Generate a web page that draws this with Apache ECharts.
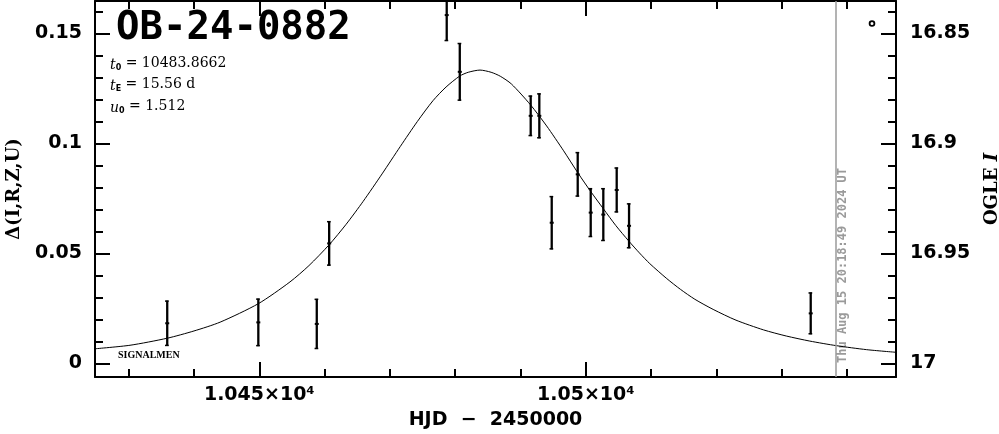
<!DOCTYPE html>
<html><head><meta charset="utf-8">
<script src="https://cdn.jsdelivr.net/npm/echarts@6/dist/echarts.min.js"></script>
<style>html,body{margin:0;padding:0;background:#fff}#c{width:999px;height:434px}</style>
</head><body><div id="c"></div>
<script>
// ---- data ----
const obsDays  = [10435.9, 10449.85, 10458.8, 10460.7, 10478.7, 10480.7, 10491.56, 10492.88, 10494.78, 10498.76, 10500.75, 10502.68, 10504.73, 10506.62, 10534.44];
const obsDelta = [0.0182, 0.0186, 0.0179, 0.0545, 0.1583, 0.1325, 0.1125, 0.1125, 0.0639, 0.0859, 0.0685, 0.0676, 0.0788, 0.0625, 0.0227];
const obsErr   = [0.0103, 0.0108, 0.0114, 0.0101, 0.0118, 0.0131, 0.0092, 0.0102, 0.0121, 0.0101, 0.0111, 0.0120, 0.0102, 0.0102, 0.0095];

const modelDays  = [10424.84, 10430.2, 10435.9, 10440.0, 10444.0, 10449.85, 10454.7, 10457.6, 10460.7, 10463.3, 10465.9, 10468.8, 10471.6, 10474.2, 10476.6, 10478.6, 10480.7, 10482.0, 10483.8, 10485.5, 10486.9, 10488.6, 10491.5, 10494.0, 10496.6, 10498.8, 10500.7, 10502.7, 10504.6, 10506.6, 10508.2, 10509.8, 10512.4, 10514.5, 10516.7, 10519.5, 10523.0, 10527.2, 10530.7, 10534.3, 10538.4, 10543.0, 10547.5];
const modelDelta = [0.0066, 0.0082, 0.0114, 0.0147, 0.0187, 0.0271, 0.0370, 0.0444, 0.0539, 0.0632, 0.0736, 0.0861, 0.0986, 0.1099, 0.1194, 0.1256, 0.1306, 0.1323, 0.1333, 0.1323, 0.1305, 0.1270, 0.1176, 0.1079, 0.0966, 0.0865, 0.0783, 0.0702, 0.0626, 0.0555, 0.0502, 0.0453, 0.0385, 0.0336, 0.0291, 0.0245, 0.0196, 0.0152, 0.0124, 0.0101, 0.0080, 0.0062, 0.0050];

const xMajorTicks = [10450, 10500];
const xMinorTicks = [10430, 10440, 10460, 10470, 10480, 10490, 10510, 10520, 10530, 10540];
const deltaMajorTicks = [0, 0.05, 0.1, 0.15];
const deltaMinorTicks = [0.01, 0.02, 0.03, 0.04, 0.06, 0.07, 0.08, 0.09, 0.11, 0.12, 0.13, 0.14, 0.16];
const magMajorTicks = [16.85, 16.9, 16.95, 17];
const magMinorTicks = [16.84, 16.86, 16.87, 16.88, 16.89, 16.91, 16.92, 16.93, 16.94, 16.96, 16.97, 16.98, 16.99];

const dateLineDay = 10538.35;
const dateText = 'Thu Aug 15 20:18:49 2024 UT';
const titleText = 'OB-24-0882';
const paramT0 = '10483.8662';
const paramTE = '15.56 d';
const paramU0 = '1.512';

const X_MIN = 10424.84, X_MAX = 10547.5;
const D_MIN = -0.00623, D_MAX = 0.1647;
const M_MIN = 17 - D_MAX, M_MAX = 17 - D_MIN;

const chart = echarts.init(document.getElementById('c'), null, {renderer: 'canvas'});
const black = '#000';
const tickFont = {fontFamily: 'DejaVu Sans', fontWeight: 'bold', fontSize: 19, color: black};

function xAxisDef(pos, ticks, len, showLine, showLabel) {
  return {
    type: 'value', position: pos, min: X_MIN, max: X_MAX, scale: true,
    axisLine: {show: showLine, onZero: false, lineStyle: {color: black, width: 2}},
    axisTick: {show: true, inside: true, length: len, customValues: ticks, lineStyle: {color: black, width: 2}},
    axisLabel: showLabel ? Object.assign({show: true, margin: 9, customValues: ticks,
      formatter: v => (v / 1e4).toString() + '×10⁴'}, tickFont) : {show: false},
    splitLine: {show: false}
  };
}
function yAxisDef(pos, min, max, inverse, ticks, len, showLine, showLabel, margin) {
  return {
    type: 'value', position: pos, min: min, max: max, inverse: inverse, scale: true,
    axisLine: {show: showLine, onZero: false, lineStyle: {color: black, width: 2}},
    axisTick: {show: true, inside: true, length: len, customValues: ticks, lineStyle: {color: black, width: 2}},
    axisLabel: showLabel ? Object.assign({show: true, margin: margin, customValues: ticks,
      formatter: v => String(v)}, tickFont) : {show: false},
    splitLine: {show: false}
  };
}

const xAxes = [
  xAxisDef('bottom', xMajorTicks, 15, true, true),
  xAxisDef('bottom', xMinorTicks, 8, false, false),
  xAxisDef('top', xMajorTicks, 15, true, false),
  xAxisDef('top', xMinorTicks, 8, false, false)
];
xAxes[0].name = 'HJD  −  2450000';
xAxes[0].nameLocation = 'middle';
xAxes[0].nameGap = 34;
xAxes[0].nameTextStyle = {fontFamily: 'DejaVu Sans', fontWeight: 'bold', fontSize: 19, color: black};

const yAxes = [
  yAxisDef('left', D_MIN, D_MAX, false, deltaMajorTicks, 15, true, true, 13),
  yAxisDef('left', D_MIN, D_MAX, false, deltaMinorTicks, 8, false, false, 0),
  yAxisDef('right', M_MIN, M_MAX, true, magMajorTicks, 15, true, true, 14),
  yAxisDef('right', M_MIN, M_MAX, true, magMinorTicks, 8, false, false, 0)
];
yAxes[0].name = 'Δ(I,R,Z,U)';
yAxes[0].nameLocation = 'middle';
yAxes[0].nameRotate = 90;
yAxes[0].nameGap = 72;
yAxes[0].nameTextStyle = {fontFamily: 'DejaVu Serif', fontWeight: 'bold', fontSize: 18, color: black};
yAxes[2].name = 'OGLE {i|I}';
yAxes[2].nameLocation = 'middle';
yAxes[2].nameRotate = 90;
yAxes[2].nameGap = 87;
yAxes[2].nameTextStyle = {fontFamily: 'DejaVu Serif', fontWeight: 'bold', fontSize: 18, color: black,
  rich: {i: {fontFamily: 'DejaVu Serif', fontWeight: 'bold', fontStyle: 'italic', fontSize: 18, color: black}}};

const obsData = obsDays.map((d, i) => [d, obsDelta[i], obsErr[i]]);
const modelData = modelDays.map((d, i) => [d, modelDelta[i]]);

const option = {
  animation: false,
  backgroundColor: '#fff',
  grid: {left: 95, right: 103, top: 1, bottom: 57, containLabel: false, outerBoundsMode: 'none'},
  xAxis: xAxes,
  yAxis: yAxes,
  series: [
    {
      type: 'line', name: 'model', data: modelData, xAxisIndex: 0, yAxisIndex: 0,
      showSymbol: false, smooth: 0.25, lineStyle: {color: black, width: 1}, silent: true,
      markLine: {
        silent: true, symbol: ['none', 'none'], label: {show: false},
        lineStyle: {color: '#9a9a9a', type: 'solid', width: 1.5},
        data: [{xAxis: dateLineDay}]
      }
    },
    {
      type: 'custom', name: 'OGLE', data: obsData, xAxisIndex: 0, yAxisIndex: 0, clip: true,
      renderItem: function (params, api) {
        const x = api.value(0), y = api.value(1), e = api.value(2);
        const c = api.coord([x, y]);
        const t = api.coord([x, y + e]);
        const b = api.coord([x, y - e]);
        const cs = params.coordSys;
        const yTop = Math.max(t[1], cs.y);
        const yBot = Math.min(b[1], cs.y + cs.height);
        const st = {stroke: black, lineWidth: 2.3};
        const ch = [
          {type: 'line', shape: {x1: c[0], y1: yTop, x2: c[0], y2: yBot}, style: st},
          {type: 'line', shape: {x1: c[0] - 2.2, y1: yBot - 0.5, x2: c[0] + 1.5, y2: yBot - 0.5}, style: {stroke: black, lineWidth: 1.5}},
          {type: 'rect', shape: {x: c[0] - 2, y: c[1] - 1, width: 4, height: 2}, style: {fill: black}}
        ];
        if (t[1] >= cs.y) ch.push({type: 'line', shape: {x1: c[0] - 2.2, y1: yTop + 0.5, x2: c[0] + 1.5, y2: yTop + 0.5}, style: {stroke: black, lineWidth: 1.5}});
        return {type: 'group', children: ch};
      }
    }
  ]
};
chart.setOption(option);

const lineX = chart.convertToPixel({xAxisIndex: 0}, dateLineDay);
const gridBottom = chart.convertToPixel({yAxisIndex: 0}, D_MIN);

chart.setOption({
  graphic: [
    {type: 'text', x: 116, y: 29, silent: true,
      style: {text: titleText, font: 'bold 39px "DejaVu Sans Mono"', fill: black, textVerticalAlign: 'middle', textAlign: 'left'}},
    {type: 'text', x: 110, y: 63, silent: true,
      style: {text: '{i|t}{s|0} = ' + paramT0, font: '14px "DejaVu Serif"', fill: black, textVerticalAlign: 'middle',
        rich: {i: {font: 'italic 14px "DejaVu Serif"', lineHeight: 18, verticalAlign: 'bottom'}, s: {font: 'bold 8px "DejaVu Sans"', lineHeight: 12, verticalAlign: 'bottom'}}}},
    {type: 'text', x: 110, y: 84, silent: true,
      style: {text: '{i|t}{s|E} = ' + paramTE, font: '14px "DejaVu Serif"', fill: black, textVerticalAlign: 'middle',
        rich: {i: {font: 'italic 14px "DejaVu Serif"', lineHeight: 18, verticalAlign: 'bottom'}, s: {font: 'bold 8px "DejaVu Sans"', lineHeight: 12, verticalAlign: 'bottom'}}}},
    {type: 'text', x: 110, y: 106, silent: true,
      style: {text: '{i|u}{s|0} = ' + paramU0, font: '14px "DejaVu Serif"', fill: black, textVerticalAlign: 'middle',
        rich: {i: {font: 'italic 14px "DejaVu Serif"', lineHeight: 18, verticalAlign: 'bottom'}, s: {font: 'bold 8px "DejaVu Sans"', lineHeight: 12, verticalAlign: 'bottom'}}}},
    {type: 'text', x: 118, y: 355, silent: true,
      style: {text: 'SIGNALMEN', font: 'bold 10px "Liberation Serif"', fill: black, textVerticalAlign: 'middle'}},
    {type: 'text', x: lineX + 6.5, y: gridBottom - 14, rotation: Math.PI / 2, silent: true,
      style: {text: dateText, font: 'bold 12px "DejaVu Sans Mono"', fill: '#9a9a9a', textVerticalAlign: 'middle', textAlign: 'left'}},
    {type: 'circle', shape: {cx: 872, cy: 23.5, r: 2.4}, silent: true,
      style: {fill: 'none', stroke: black, lineWidth: 1.8}}
  ]
});
</script>
</body></html>
